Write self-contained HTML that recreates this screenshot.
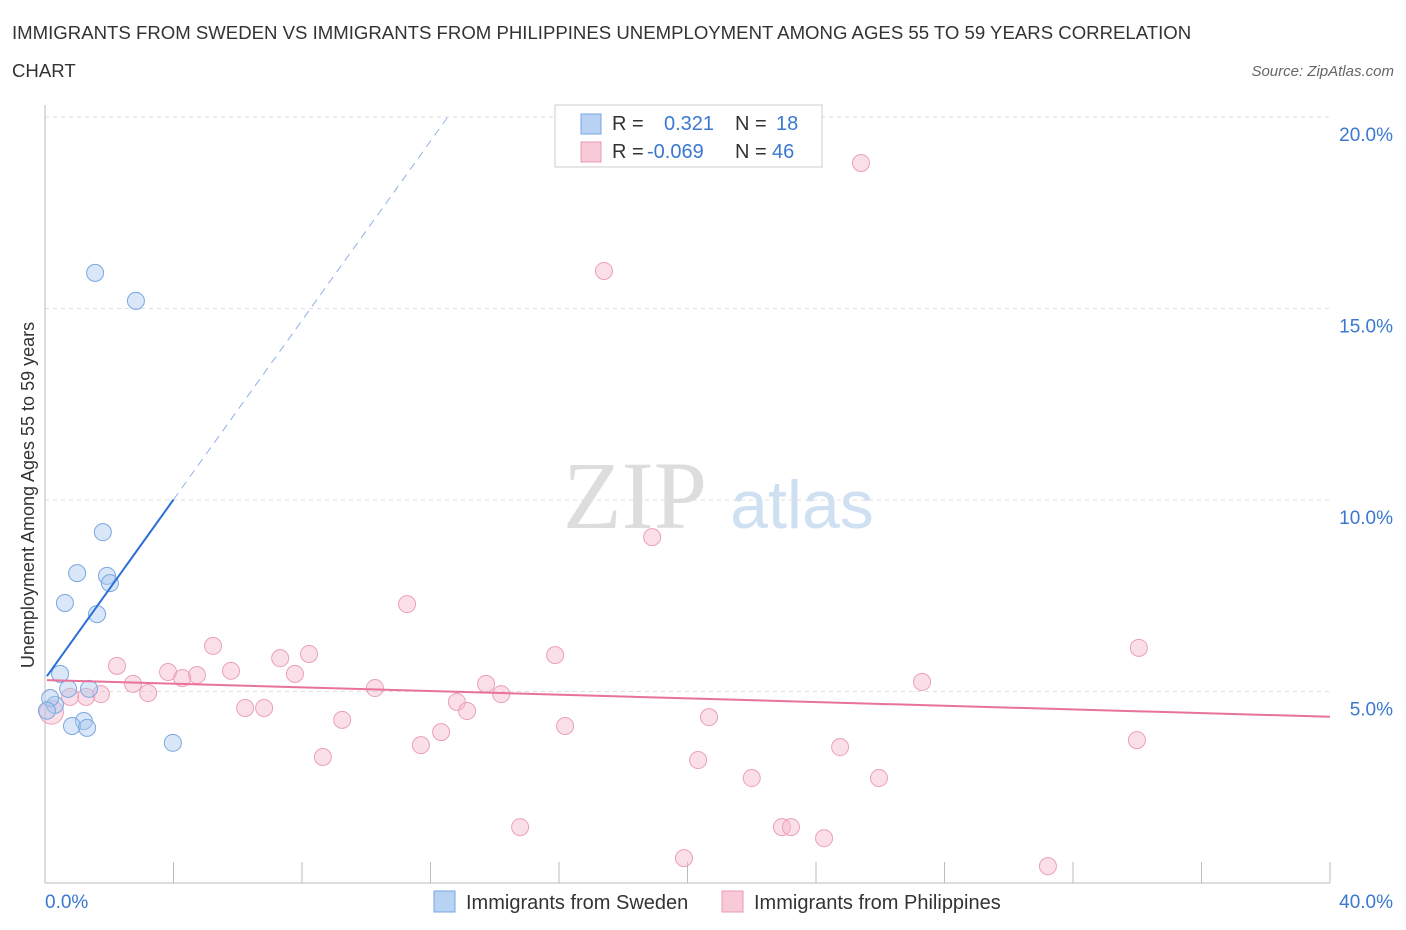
<!DOCTYPE html>
<html><head><meta charset="utf-8">
<style>
body{margin:0;background:#fff;font-family:"Liberation Sans",sans-serif;}
svg{display:block}
</style></head>
<body>
<svg id="chart" width="1406" height="930" xmlns="http://www.w3.org/2000/svg">
<text x="12" y="39" font-size="18.6" fill="#333">IMMIGRANTS FROM SWEDEN VS IMMIGRANTS FROM PHILIPPINES UNEMPLOYMENT AMONG AGES 55 TO 59 YEARS CORRELATION</text>
<text x="12" y="77" font-size="18.6" fill="#333">CHART</text>
<text x="1394" y="76" font-size="15" fill="#666" font-style="italic" text-anchor="end">Source: ZipAtlas.com</text>
<text x="635" y="528" font-size="96" fill="#ddd" font-family="Liberation Serif,serif" text-anchor="middle">ZIP</text>
<text x="802" y="528" font-size="68" fill="#cfe0f3" text-anchor="middle">atlas</text>
<g id="grid"></g>
<g id="marks"></g>
<text transform="translate(34,495) rotate(-90)" font-size="18" fill="#333" text-anchor="middle">Unemployment Among Ages 55 to 59 years</text>
<text x="45" y="908" font-size="19" fill="#3b78d0">0.0%</text>
<text x="1393" y="908" font-size="19" fill="#3b78d0" text-anchor="end">40.0%</text>
<g>
<rect x="555" y="105" width="267" height="62" fill="#fff" stroke="#ccc"/>
<rect x="581" y="114" width="20" height="20" fill="#b7d2f3" stroke="#7aa7e0"/>
<text x="612" y="130" font-size="20" fill="#333">R =</text>
<text x="664" y="130" font-size="20" fill="#3b78d0">0.321</text>
<text x="735" y="130" font-size="20" fill="#333">N =</text>
<text x="776" y="130" font-size="20" fill="#3b78d0">18</text>
<rect x="581" y="142" width="20" height="20" fill="#f8c9d7" stroke="#eb9ab3"/>
<text x="612" y="158" font-size="20" fill="#333">R =</text>
<text x="647" y="158" font-size="20" fill="#3b78d0">-0.069</text>
<text x="735" y="158" font-size="20" fill="#333">N =</text>
<text x="772" y="158" font-size="20" fill="#3b78d0">46</text>
</g>
<g>
<rect x="434" y="891" width="21" height="21" fill="#b7d2f3" stroke="#7aa7e0"/>
<text x="466" y="909" font-size="20" fill="#333">Immigrants from Sweden</text>
<rect x="722" y="891" width="21" height="21" fill="#f8c9d7" stroke="#eb9ab3"/>
<text x="754" y="909" font-size="20" fill="#333">Immigrants from Philippines</text>
</g>
</svg>
<script>
const yTicks=[5,10,15,20];
const yTickLabels=["5.0%","10.0%","15.0%","20.0%"];
const xTickVals=[0,4,8,12,16,20,24,28,32,36,40];
const swedenX=[1.56,2.83,1.8,1.0,1.93,2.02,0.62,1.62,0.47,0.72,1.37,0.31,1.21,0.84,1.31,3.98,0.16,0.06];
const swedenY=[15.93,15.2,9.16,8.09,8.02,7.83,7.31,7.02,5.46,5.07,5.07,4.65,4.23,4.1,4.05,3.66,4.83,4.5];
const philX=[25.4,17.4,18.9,11.27,34.05,5.23,8.22,15.88,7.32,2.24,3.83,5.79,4.73,4.27,7.78,2.74,27.3,13.73,10.27,3.21,1.74,1.28,0.78,14.2,12.82,13.14,6.23,6.82,20.67,9.25,16.19,12.33,11.7,24.75,33.99,8.65,20.33,22.0,25.96,14.79,22.94,23.22,24.25,19.89,31.22,0.2];
const philY=[18.8,15.98,9.03,7.28,6.14,6.19,5.98,5.95,5.87,5.67,5.51,5.54,5.43,5.35,5.46,5.2,5.25,5.2,5.09,4.96,4.93,4.86,4.86,4.93,4.73,4.49,4.57,4.57,4.33,4.26,4.1,3.94,3.6,3.55,3.73,3.29,3.21,2.74,2.74,1.46,1.46,1.46,1.17,0.65,0.44,4.46];
const swedenTrend=[5.33,1.17];
const philTrend=[5.3,-0.024];
const NS="http://www.w3.org/2000/svg";
const X=v=>45+v/40*1285;
const Y=v=>883-v*38.3;
function mk(tag,attrs,parent){const e=document.createElementNS(NS,tag);for(const k in attrs)e.setAttribute(k,attrs[k]);parent.appendChild(e);return e;}
const grid=document.getElementById('grid');
const marks=document.getElementById('marks');
yTicks.forEach((t,i)=>{
  const l=mk('line',{x1:45,x2:1330,y1:Y(t),y2:Y(t),stroke:'#ddd','stroke-dasharray':'4,4'},grid);
  
  
  const tx=mk('text',{x:1393,y:Y(t)+24,'font-size':19,fill:'#3b78d0','text-anchor':'end'},grid);
  tx.textContent=yTickLabels[i];
  
  
});
const ax=mk('line',{x1:45,x2:1330,y1:883,y2:883,stroke:'#bbb'},grid);


const ay=mk('line',{x1:45,x2:45,y1:105,y2:883,stroke:'#bbb'},grid);


xTickVals.forEach(t=>{
  const l=mk('line',{x1:X(t),x2:X(t),y1:862,y2:883,stroke:'#bbb'},grid);
  
  
});
philX.forEach((x,i)=>{
  const c=mk('circle',{cx:X(x),cy:Y(philY[i]),r:i===45?12:8.5,fill:'rgba(246,184,204,0.45)',stroke:'#eba0b8','stroke-width':1},marks);
  
  
});
swedenX.forEach((x,i)=>{
  const c=mk('circle',{cx:X(x),cy:Y(swedenY[i]),r:8.5,fill:'rgba(170,201,240,0.45)',stroke:'#7aa7e0','stroke-width':1},marks);
  
  
});
const sx1=0.06,sx2=4.0,sx3=(20-swedenTrend[0])/swedenTrend[1];
const bl=mk('line',{x1:X(sx1),y1:Y(swedenTrend[0]+swedenTrend[1]*sx1),x2:X(sx2),y2:Y(swedenTrend[0]+swedenTrend[1]*sx2),stroke:'#2a6fd6','stroke-width':2},marks);


const bd=mk('line',{x1:X(sx2),y1:Y(swedenTrend[0]+swedenTrend[1]*sx2),x2:X(sx3),y2:Y(20),stroke:'#8fb2e6','stroke-width':1,'stroke-dasharray':'8,6'},marks);


const pl=mk('line',{x1:X(0.06),y1:Y(philTrend[0]+philTrend[1]*0.06),x2:X(40),y2:Y(philTrend[0]+philTrend[1]*40),stroke:'#e8729a','stroke-width':2},marks);


</script>
</body></html>
